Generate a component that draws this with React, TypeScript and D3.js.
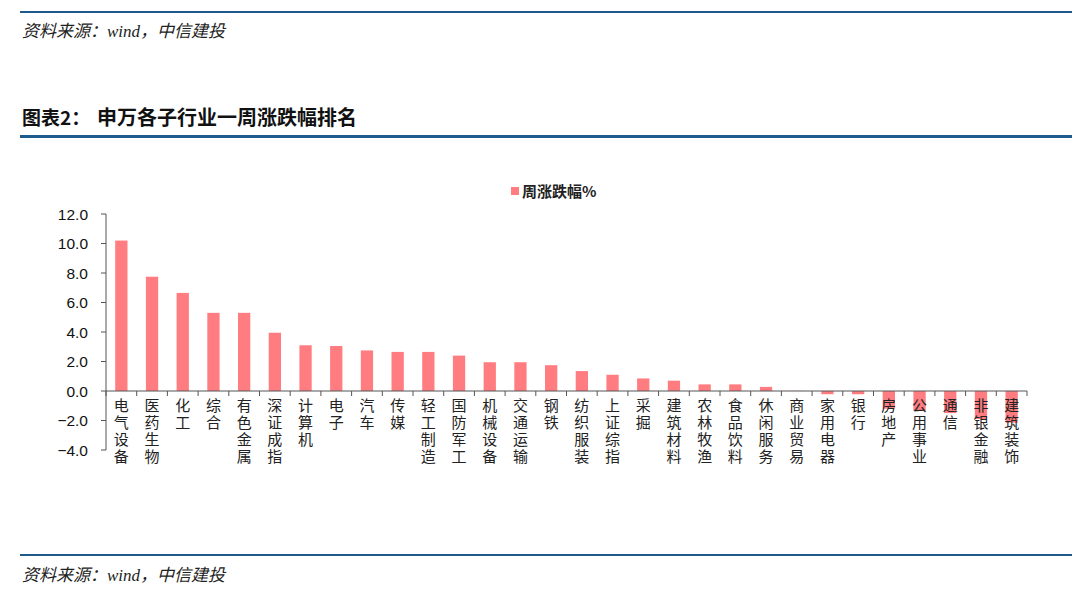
import * as d3 from 'd3';
import React, { useEffect, useRef } from "react";

const categories = [
    '电气设备', '医药生物', '化工', '综合', '有色金属', '深证成指', '计算机', '电子', '汽车', '传媒',
    '轻工制造', '国防军工', '机械设备', '交通运输', '钢铁', '纺织服装', '上证综指', '采掘', '建筑材料', '农林牧渔',
    '食品饮料', '休闲服务', '商业贸易', '家用电器', '银行', '房地产', '公用事业', '通信', '非银金融', '建筑装饰'
];
const weeklyChange = [
    10.2, 7.75, 6.65, 5.3, 5.3, 3.95, 3.1, 3.05, 2.75, 2.65,
    2.65, 2.4, 1.95, 1.95, 1.75, 1.35, 1.1, 0.85, 0.7, 0.45,
    0.45, 0.28, 0.01, -0.22, -0.22, -1.2, -1.35, -1.5, -1.9, -2.15
];
const yTicks = [-4, -2, 0, 2, 4, 6, 8, 10, 12];
const seriesName = '周涨跌幅%';
const titleLead = '图表2：';
const titleText = '申万各子行业一周涨跌幅排名';
const sourceText = '资料来源：wind，中信建投';

const BLUE = '#1f5a8c';
const BAR = '#ff7c80';

const App: React.FC = () => {
    const ref = useRef<SVGSVGElement>(null);

    useEffect(() => {
        if (!ref.current) return;
        const svg = d3.select(ref.current);
        svg.selectAll('*').remove();

        // page frame: rules, title, sources
        svg.append('rect').attr('x', 20).attr('y', 11).attr('width', 1052).attr('height', 2).attr('fill', BLUE);
        svg.append('text').attr('x', 22).attr('y', 37)
            .attr('font-family', '"Liberation Serif", "Noto Sans CJK SC"').attr('font-style', 'italic')
            .attr('font-size', 17).attr('fill', '#222').text(sourceText);

        svg.append('text').attr('x', 22).attr('y', 125)
            .attr('font-family', '"Noto Sans CJK SC", sans-serif').attr('font-weight', 'bold')
            .attr('font-size', 19).attr('fill', '#111').text(titleLead);
        svg.append('text').attr('x', 97).attr('y', 125)
            .attr('font-family', '"Noto Sans CJK SC", sans-serif').attr('font-weight', 'bold')
            .attr('font-size', 20).attr('fill', '#111').text(titleText);
        svg.append('rect').attr('x', 20).attr('y', 135).attr('width', 1052).attr('height', 3).attr('fill', BLUE);

        svg.append('rect').attr('x', 20).attr('y', 554).attr('width', 1052).attr('height', 2).attr('fill', BLUE);
        svg.append('text').attr('x', 22).attr('y', 581)
            .attr('font-family', '"Liberation Serif", "Noto Sans CJK SC"').attr('font-style', 'italic')
            .attr('font-size', 17).attr('fill', '#222').text(sourceText);

        // chart
        const x = d3.scaleBand<string>().domain(categories).range([106, 1027])
            .paddingInner(0.6).paddingOuter(0.3);
        const y = d3.scaleLinear().domain([-4, 12]).range([450, 214]);
        const g = svg.append('g');

        // legend
        g.append('rect').attr('x', 511).attr('y', 187).attr('width', 8).attr('height', 8).attr('fill', BAR);
        g.append('text').attr('x', 522).attr('y', 197)
            .attr('font-family', '"Noto Sans CJK SC", serif').attr('font-weight', 'bold')
            .attr('font-size', 15).attr('fill', '#222').text(seriesName);

        // y axis
        g.append('line').attr('x1', 106).attr('x2', 106).attr('y1', y(12)).attr('y2', y(-4))
            .attr('stroke', '#555').attr('stroke-width', 1);
        yTicks.forEach(t => {
            g.append('line').attr('x1', 101).attr('x2', 106).attr('y1', y(t)).attr('y2', y(t))
                .attr('stroke', '#555');
            g.append('text').attr('x', 88).attr('y', y(t)).attr('dy', '0.36em')
                .attr('text-anchor', 'end').attr('font-family', '"Liberation Sans", Arial, sans-serif')
                .attr('font-size', 15.5).attr('fill', '#111').text(d3.format('.1f')(t));
        });

        // bars
        g.selectAll('.bar').data(categories).enter().append('rect')
            .attr('class', 'bar')
            .attr('x', d => x(d)!)
            .attr('width', x.bandwidth())
            .attr('y', (_, i) => y(Math.max(0, weeklyChange[i])))
            .attr('height', (_, i) => Math.abs(y(weeklyChange[i]) - y(0)))
            .attr('fill', BAR);

        // x axis
        const step = x.step();
        g.append('line').attr('x1', 106).attr('x2', 1027).attr('y1', y(0)).attr('y2', y(0))
            .attr('stroke', '#555');
        d3.range(categories.length + 1).forEach(i => {
            const tx = 106 + i * step;
            g.append('line').attr('x1', tx).attr('x2', tx).attr('y1', y(0)).attr('y2', y(0) + 5)
                .attr('stroke', '#555');
        });

        // vertical category labels
        g.selectAll('.xlabel').data(categories).enter().append('text')
            .attr('class', 'xlabel')
            .attr('x', d => x(d)! + x.bandwidth() / 2)
            .attr('y', 398)
            .style('writing-mode', 'vertical-rl')
            .style('text-orientation', 'upright')
            .style('letter-spacing', '1.8px')
            .attr('font-family', '"Noto Sans CJK SC", serif')
            .attr('font-size', 15).attr('fill', '#222')
            .text(d => d);
    }, []);

    return (
        <svg ref={ref} width={1080} height={593}
            style={{ position: 'absolute', left: 0, top: 0, background: '#fff' }}></svg>
    );
}

export default App;
